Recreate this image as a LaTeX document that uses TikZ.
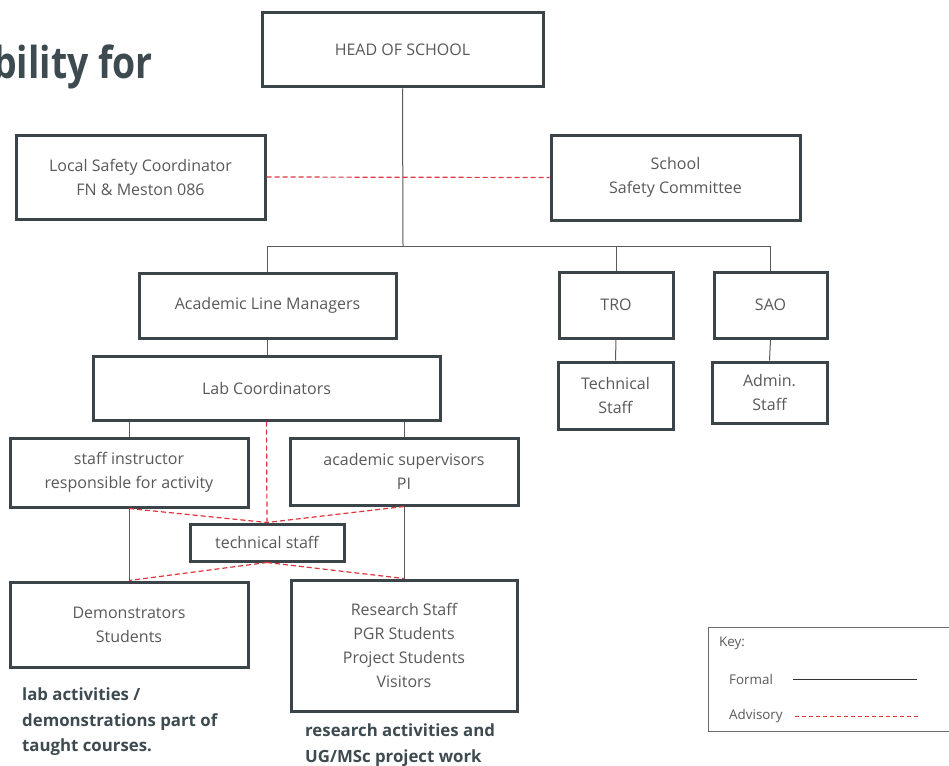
\documentclass[tikz,border=0pt]{standalone}
\usepackage{fontspec}
\setmainfont{Open Sans}
\usetikzlibrary{calc}
\definecolor{boxc}{HTML}{3B4449}
\definecolor{txtc}{HTML}{595959}
\definecolor{linec}{HTML}{5A5A5A}
\definecolor{redc}{HTML}{E0343C}
\definecolor{titlec}{HTML}{3D4A50}
\definecolor{keyc}{HTML}{6A6A6A}
\tikzset{
  box/.style={draw=boxc, line width=3pt, fill=white, align=center, text=txtc,
    font=\fontsize{16}{24}\selectfont, inner sep=0pt},
  conn/.style={draw=linec, line width=1pt},
  adv/.style={draw=redc, line width=1.2pt, dash pattern=on 5pt off 3pt},
  note/.style={font=\bfseries\fontsize{16.8}{25.5}\selectfont, text=titlec, align=left, inner sep=0pt},
  keytext/.style={font=\fontsize{13.4}{16}\selectfont, text=txtc, inner sep=0pt, anchor=west}
}
\begin{document}
\begin{tikzpicture}[x=1pt,y=-1pt]
\useasboundingbox (0,0) rectangle (949,765);
\fill[white] (0,0) rectangle (949,765);
% title fragment
\node[font=\bfseries\fontsize{44}{50}\selectfont, text=titlec, anchor=base west, inner sep=0pt] (title) at (-7,79) {\scalebox{0.85}[1]{bility for}};
% boxes
\node[box, minimum width=281, minimum height=74] (head) at (402.5,50) {HEAD OF SCHOOL};
\node[box, minimum width=249, minimum height=84] (lsc) at (140.5,177) {Local Safety Coordinator\\FN \& Meston 086};
\node[box, minimum width=249, minimum height=85] (ssc) at (675.5,177.5) {School\\Safety Committee};
\node[box, minimum width=257, minimum height=65] (alm) at (267.5,305.5) {Academic Line Managers};
\node[box, minimum width=114, minimum height=66] (tro) at (616,305) {TRO};
\node[box, minimum width=113, minimum height=66] (sao) at (770.5,305) {SAO};
\node[box, minimum width=115, minimum height=67] (tstaff) at (615.5,395.5) {Technical\\Staff};
\node[box, minimum width=115, minimum height=61] (admin) at (769.5,392.5) {Admin.\\Staff};
\node[box, minimum width=347, minimum height=64] (labc) at (266.5,388) {Lab Coordinators};
\node[box, minimum width=238, minimum height=69] (sia) at (129,472.5) {staff instructor\\responsible for activity};
\node[box, minimum width=228, minimum height=67] (acs) at (404,471.5) {academic supervisors\\PI};
\node[box, minimum width=154, minimum height=37] (tech) at (267,542.5) {technical staff};
\node[box, minimum width=238, minimum height=85] (demo) at (129,624.5) {Demonstrators\\Students};
\node[box, minimum width=226, minimum height=131] (rs) at (404,645.5) {Research Staff\\PGR Students\\Project Students\\Visitors};
% formal connectors
\coordinate (bus) at (403,246);
\draw[conn] (head.south) -- (bus);
\draw[conn] (alm.north) -- (alm.north |- bus) -- (sao.north |- bus) -- (sao.north);
\draw[conn] (tro.north) -- (tro.north |- bus);
\draw[conn] (tro.south) -- (tstaff.north);
\draw[conn] (sao.south) -- (admin.north);
\draw[conn] (alm.south) -- (alm.south |- labc.north);
\draw[conn] (sia.north) -- (sia.north |- labc.south);
\draw[conn] (acs.north) -- (acs.north |- labc.south);
\draw[conn] (sia.south) -- (demo.north);
\draw[conn] (acs.south) -- (rs.north);
% advisory connectors
\draw[adv] (lsc.east) -- (ssc.west);
\draw[adv] (labc.south) -- (tech.north);
\draw[adv] (sia.south) -- (tech.north);
\draw[adv] (acs.south) -- (tech.north);
\draw[adv] (tech.south) -- (demo.north);
\draw[adv] (tech.south) -- (rs.north);
% notes
\node[note, anchor=north west] (n1) at (22,688) {lab activities /\\demonstrations part of\\taught courses.};
\node[note, anchor=north west] (n2) at (305,724) {research activities and\\UG/MSc project work};
% key
\draw[draw=keyc, line width=1pt] (708,627) rectangle (960,731);
\node[keytext] (kk) at (719,643) {Key:};
\node[keytext] (kf) at (729,679) {Formal};
\node[keytext] (ka) at (729,716) {Advisory};
\coordinate (kf1) at (793,679); \coordinate (kf2) at (917,679);
\coordinate (ka1) at (795,716); \coordinate (ka2) at (920,716);
\draw[draw=black!80, line width=1pt] (kf1) -- (kf2);
\draw[adv, line width=1pt, dash pattern=on 4pt off 3pt] (ka1) -- (ka2);
\end{tikzpicture}
\end{document}
